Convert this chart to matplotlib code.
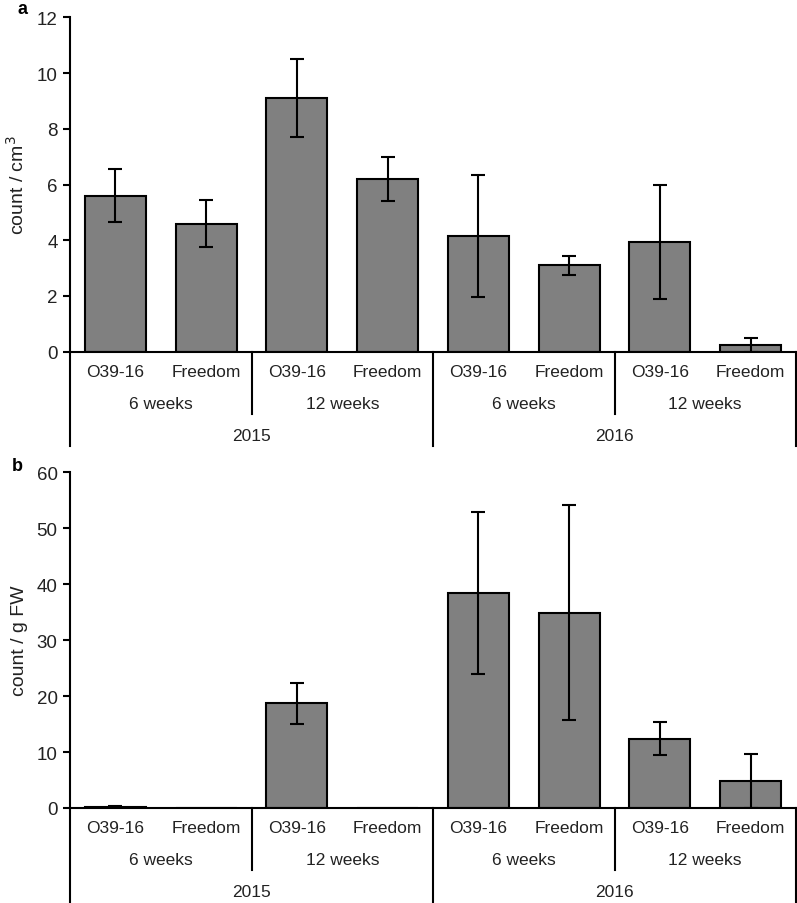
import matplotlib
matplotlib.use('Agg')
from matplotlib import pyplot as plt

plt.rcParams['font.family'] = ['Liberation Sans', 'DejaVu Sans']

# data
cultivars = ['O39-16', 'Freedom'] * 4
weeks = ['6 weeks', '12 weeks', '6 weeks', '12 weeks']
years = ['2015', '2016']

count_cm3 = [5.6, 4.6, 9.1, 6.2, 4.15, 3.1, 3.95, 0.25]
err_cm3 = [0.95, 0.85, 1.4, 0.78, 2.2, 0.35, 2.05, 0.25]

count_gfw = [0.2, 0.0, 18.7, 0.0, 38.4, 34.9, 12.4, 4.8]
err_gfw = [0.2, 0.0, 3.7, 0.0, 14.5, 19.2, 2.9, 4.8]

W, H = 797, 904
fig = plt.figure(figsize=(W/100, H/100), dpi=100)

def panel(top, bottom, vals, errs, ymax, ystep, ylabel, letter, letter_xy):
    ax = fig.add_axes([70/W, (H-bottom)/H, (796-70)/W, (bottom-top)/H])
    x = list(range(len(vals)))
    ax.bar(x, vals, width=0.67, color='#808080', edgecolor='black', lw=1.5, zorder=2)
    nz = [i for i in x if errs[i] > 0]
    ax.errorbar([x[i] for i in nz], [vals[i] for i in nz], yerr=[errs[i] for i in nz],
                fmt='none', ecolor='black', elinewidth=1.5, capsize=5, capthick=1.5, zorder=3)
    ax.set_xlim(-0.5, 7.5)
    ax.set_ylim(0, ymax)
    ax.set_yticks(range(0, ymax + 1, ystep))
    ax.set_xticks([])
    for s in ['top', 'right']:
        ax.spines[s].set_visible(False)
    ax.spines['left'].set_linewidth(1.5)
    ax.spines['bottom'].set_linewidth(1.5)
    ax.tick_params(axis='y', labelsize=13.5, width=1.5, length=5, direction='out', pad=4,
                   labelcolor='#222222')
    ax.set_ylabel(ylabel, fontsize=14, labelpad=6, color='#222222')

    hpx = bottom - top
    tr = ax.get_xaxis_transform()
    fy = lambda px: -px / hpx
    # category labels
    for i, c in enumerate(cultivars):
        ax.text(i, fy(20), c, transform=tr, ha='center', va='center', fontsize=12.5, color='#222222')
    for j, w in enumerate(weeks):
        ax.text(2*j + 0.5, fy(52), w, transform=tr, ha='center', va='center', fontsize=12.5, color='#222222')
    for j, yr in enumerate(years):
        ax.text(4*j + 1.5, fy(84), yr, transform=tr, ha='center', va='center', fontsize=12.5, color='#222222')
    # separator lines
    for sx in [1.5, 5.5]:
        ax.plot([sx, sx], [0, fy(62)], transform=tr, color='black', lw=1.5, clip_on=False)
    for sx in [-0.5, 3.5, 7.5]:
        ax.plot([sx, sx], [0, fy(94)], transform=tr, color='black', lw=1.5, clip_on=False)
    fig.text(letter_xy[0]/W, 1 - letter_xy[1]/H, letter, fontsize=13, fontweight='bold',
             ha='center', va='top')
    return ax

panel(18.3, 352.7, count_cm3, err_cm3, 12, 2, 'count / cm$^3$', 'a', (23, 1))
panel(473.3, 809.0, count_gfw, err_gfw, 60, 10, 'count / g FW', 'b', (17, 458))

fig.savefig('out.png', dpi=100)
